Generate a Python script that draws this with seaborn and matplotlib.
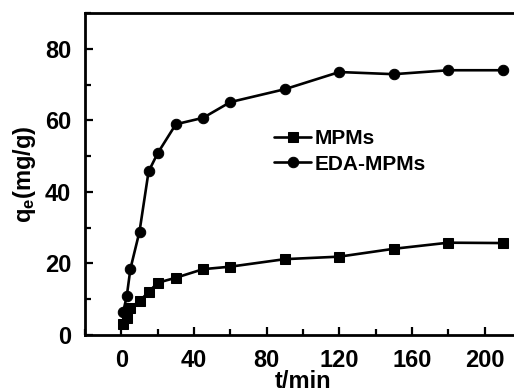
import matplotlib
matplotlib.use("Agg")
import matplotlib.pyplot as plt
from matplotlib.ticker import MultipleLocator
import seaborn as sns
import pandas as pd

# adsorption kinetics data
t_min = [1, 3, 5, 10, 15, 20, 30, 45, 60, 90, 120, 150, 180, 210]
qe_mpms = [3.0, 4.8, 7.6, 9.5, 12.0, 14.6, 16.0, 18.4, 19.1, 21.2, 21.9, 24.1, 25.8, 25.7]
qe_eda_mpms = [6.4, 10.9, 18.5, 28.9, 45.7, 50.8, 58.9, 60.7, 65.1, 68.7, 73.5, 72.9, 74.0, 74.0]

sns.set_style('ticks')
plt.rcParams['font.family'] = ['Liberation Sans', 'DejaVu Sans']
plt.rcParams['font.weight'] = 'bold'
plt.rcParams['mathtext.fontset'] = 'custom'
plt.rcParams['mathtext.bf'] = 'Liberation Sans:bold'
plt.rcParams['mathtext.rm'] = 'Liberation Sans:bold'
plt.rcParams['mathtext.default'] = 'bf'
plt.rcParams['xtick.direction'] = 'in'
plt.rcParams['ytick.direction'] = 'in'
for key in ['text.color', 'axes.labelcolor', 'xtick.color', 'ytick.color', 'axes.edgecolor']:
    plt.rcParams[key] = 'black'

df_mpms = pd.DataFrame({'t': t_min, 'qe': qe_mpms})
df_eda = pd.DataFrame({'t': t_min, 'qe': qe_eda_mpms})

fig = plt.figure(figsize=(5.14, 3.92), dpi=100)
ax = fig.add_axes([85 / 514, 1 - 335 / 392, (521 - 85) / 514, (335 - 13) / 392])

sns.lineplot(data=df_mpms, x='t', y='qe', ax=ax, color='black', marker='s',
             markersize=6.5, linewidth=1.9, markeredgecolor='black', label='MPMs')
sns.lineplot(data=df_eda, x='t', y='qe', ax=ax, color='black', marker='o',
             markersize=7.5, linewidth=1.9, markeredgecolor='black', label='EDA-MPMs')

ax.set_xlim(-20, 220)
ax.set_ylim(0, 90)
ax.xaxis.set_major_locator(MultipleLocator(40))
ax.xaxis.set_minor_locator(MultipleLocator(20))
ax.yaxis.set_major_locator(MultipleLocator(20))
ax.yaxis.set_minor_locator(MultipleLocator(10))
ax.tick_params(which='major', length=6, width=1.6, labelsize=17, pad=10)
ax.tick_params(which='minor', length=4, width=1.6)
for lab in ax.get_xticklabels() + ax.get_yticklabels():
    lab.set_fontweight('bold')
for s in ax.spines.values():
    s.set_linewidth(2.0)

ax.set_xlabel('t/min', fontsize=17, fontweight='bold', labelpad=-1)
ax.set_ylabel(r'$\mathbf{q_e(mg/g)}$', fontsize=17, labelpad=5)

ax.legend(loc='center left', bbox_to_anchor=(0.39, 0.57), frameon=False,
          prop={'size': 15, 'weight': 'bold'}, handlelength=1.8,
          handletextpad=0.15, labelspacing=0.3)

fig.savefig('out.png', dpi=100)
